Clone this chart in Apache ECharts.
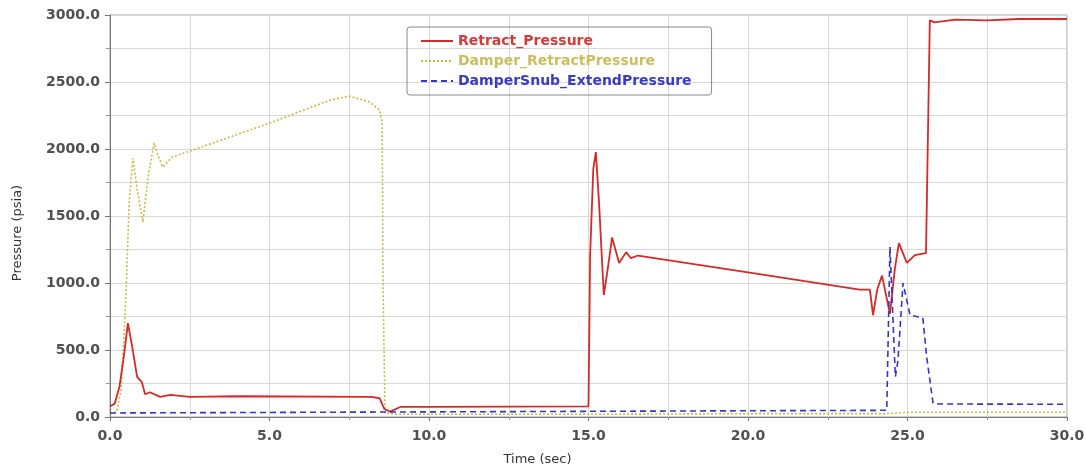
<!DOCTYPE html>
<html>
<head>
<meta charset="utf-8">
<script src="https://cdn.jsdelivr.net/npm/echarts@6/dist/echarts.min.js"></script>
<style>
  html, body { margin: 0; padding: 0; background: #fff; }
  #chart { width: 1086px; height: 468px; }
</style>
</head>
<body>
<div id="chart"></div>
<script>
// Retract_Pressure
const retractT = [0, 0.15, 0.3, 0.45, 0.56, 0.7, 0.85, 1.0, 1.1, 1.25, 1.57, 1.9, 2.5, 4, 8.2, 8.45, 8.6, 8.78, 9.1, 10, 15.0,
  15.05, 15.15, 15.23, 15.33, 15.48, 15.6, 15.74, 15.96, 16.18, 16.33, 16.55, 20, 23.5, 23.82, 23.92, 24.05, 24.2, 24.45,
  24.6, 24.73, 24.98, 25.23, 25.58, 25.62, 25.7, 25.85, 26.5, 27.5, 28.5, 30]
const retractP = [80, 100, 230, 480, 700, 520, 300, 260, 170, 185, 150, 165, 150, 155, 150, 140, 60, 40, 75, 75, 80,
  1200, 1850, 1977, 1600, 910, 1100, 1340, 1150, 1230, 1185, 1205, 1080, 950, 950, 760, 950, 1055, 770,
  1100, 1298, 1150, 1208, 1223, 1800, 2960, 2945, 2965, 2960, 2970, 2970]

// Damper_RetractPressure
const damperT = [0, 0.2, 0.35, 0.5, 0.6, 0.72, 0.85, 1.03, 1.2, 1.38, 1.5, 1.66, 1.94, 2.6, 5.08, 6.9, 7.5, 8.15, 8.45,
  8.53, 8.56, 8.62, 9, 15, 20, 24.3, 25, 30]
const damperP = [20, 40, 200, 900, 1600, 1932, 1700, 1455, 1800, 2044, 1950, 1865, 1940, 1992, 2200, 2365, 2395, 2350, 2290,
  2200, 1000, 30, 20, 20, 25, 25, 35, 35]

// DamperSnub_ExtendPressure
const snubT = [0, 24.35, 24.45, 24.62, 24.7, 24.86, 25.08, 25.48, 25.6, 25.8, 26, 30]
const snubP = [30, 50, 1268, 300, 420, 1000, 760, 740, 450, 104, 97, 95]

const xTicks = [0, 5, 10, 15, 20, 25, 30]
const yTicks = [0, 500, 1000, 1500, 2000, 2500, 3000]

const pairs = (t, p) => t.map((v, i) => [v, p[i]])

const chart = echarts.init(document.getElementById('chart'))
const gridLine = { show: true, lineStyle: { color: '#d8d8d8', width: 1 } }
const font = '"DejaVu Sans", Verdana, sans-serif'
const tickLabel = { fontFamily: font, fontSize: 14, fontWeight: 'bold', color: '#505050', formatter: v => v.toFixed(1) }

chart.setOption({
  animation: false,
  grid: {
    left: 110, right: 19, top: 15, bottom: 51,
    outerBoundsMode: 'none',
    show: true, borderColor: '#a0a0a0', borderWidth: 1
  },
  legend: {
    orient: 'vertical',
    left: 407, top: 27,
    padding: [7, 20, 7, 13],
    itemGap: 6,
    itemWidth: 32, itemHeight: 16,
    itemStyle: { opacity: 0 },
    borderColor: '#888', borderWidth: 1, borderRadius: 3,
    textStyle: { fontFamily: font, fontSize: 14, fontWeight: 'bold' },
    data: [
      { name: 'Retract_Pressure', textStyle: { color: '#d43a3a' } },
      { name: 'Damper_RetractPressure', textStyle: { color: '#cbbd60' } },
      { name: 'DamperSnub_ExtendPressure', textStyle: { color: '#3a3ac8' } }
    ]
  },
  xAxis: {
    type: 'value',
    min: xTicks[0], max: xTicks[xTicks.length - 1], interval: 5,
    name: 'Time (sec)', nameLocation: 'middle', nameGap: 36,
    nameTextStyle: { fontFamily: font, fontSize: 13, color: '#333', padding: [0, 102, 0, 0] },
    axisLine: { show: true, lineStyle: { color: '#777' } },
    axisTick: { show: true, length: 4, lineStyle: { color: '#777' } },
    minorTick: { show: true, splitNumber: 2, length: 3, lineStyle: { color: '#999' } },
    axisLabel: Object.assign({ margin: 12 }, tickLabel),
    splitLine: gridLine,
    minorSplitLine: gridLine
  },
  yAxis: {
    type: 'value',
    min: yTicks[0], max: yTicks[yTicks.length - 1], interval: 500,
    name: 'Pressure (psia)', nameLocation: 'middle', nameGap: 86, nameRotate: 90,
    nameTextStyle: { fontFamily: font, fontSize: 13, color: '#333', padding: [0, 34, 0, 0] },
    axisLine: { show: true, lineStyle: { color: '#777' } },
    axisTick: { show: true, length: 5, lineStyle: { color: '#777' } },
    minorTick: { show: true, splitNumber: 2, length: 4, lineStyle: { color: '#999' } },
    axisLabel: Object.assign({ margin: 10 }, tickLabel),
    splitLine: gridLine,
    minorSplitLine: gridLine
  },
  series: [
    {
      name: 'Retract_Pressure', type: 'line', symbol: 'none', z: 3,
      itemStyle: { color: '#d42a2a' },
      lineStyle: { color: '#d42a2a', width: 1.8 },
      data: pairs(retractT, retractP)
    },
    {
      name: 'Damper_RetractPressure', type: 'line', symbol: 'none', z: 2,
      itemStyle: { color: '#c9b84c' },
      lineStyle: { color: '#c9b84c', width: 1.6, type: [2, 2] },
      data: pairs(damperT, damperP)
    },
    {
      name: 'DamperSnub_ExtendPressure', type: 'line', symbol: 'none', z: 4,
      itemStyle: { color: '#3535cc' },
      lineStyle: { color: '#3535cc', width: 1.6, type: [6, 4] },
      data: pairs(snubT, snubP)
    }
  ]
})
</script>
</body>
</html>
